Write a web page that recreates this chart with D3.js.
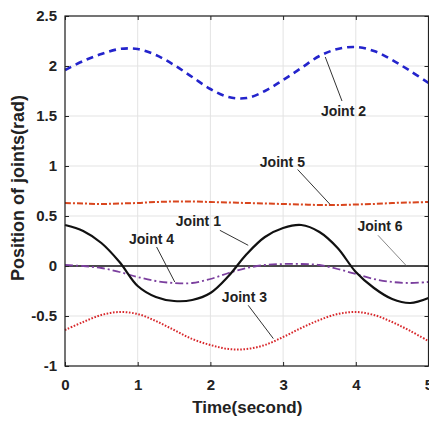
<!DOCTYPE html>
<html>
<head>
<meta charset="utf-8">
<script src="https://cdn.jsdelivr.net/npm/d3@7"></script>
<style>
  body { margin: 0; background: #fff; }
  svg text { font-family: "Liberation Sans", Arial, sans-serif; font-weight: bold; fill: #222; }
</style>
</head>
<body>
<div class="chart_area"></div>
<script>
// time samples (s)
var time = [0, 0.25, 0.5, 0.75, 1, 1.25, 1.5, 1.75, 2, 2.25, 2.5, 2.75, 3, 3.25, 3.5, 3.75, 4, 4.25, 4.5, 4.75, 5];

// joint positions (rad)
var joint1 = [0.41, 0.35, 0.23, 0.04, -0.20, -0.31, -0.35, -0.34, -0.27, -0.10, 0.12, 0.29, 0.38, 0.41, 0.34, 0.18, -0.06, -0.22, -0.33, -0.37, -0.32];
var joint2 = [1.96, 2.05, 2.12, 2.17, 2.17, 2.11, 2.01, 1.89, 1.77, 1.69, 1.68, 1.75, 1.86, 1.98, 2.10, 2.17, 2.19, 2.15, 2.06, 1.95, 1.83];
var joint3 = [-0.64, -0.56, -0.49, -0.46, -0.48, -0.55, -0.64, -0.73, -0.79, -0.83, -0.83, -0.79, -0.71, -0.62, -0.54, -0.48, -0.46, -0.49, -0.56, -0.65, -0.75];
var joint4 = [0.01, 0.00, -0.02, -0.06, -0.11, -0.15, -0.17, -0.17, -0.13, -0.07, -0.02, 0.01, 0.02, 0.02, 0.01, -0.03, -0.08, -0.13, -0.16, -0.17, -0.16];
var joint5 = [0.63, 0.625, 0.62, 0.625, 0.63, 0.64, 0.645, 0.645, 0.64, 0.635, 0.63, 0.625, 0.62, 0.615, 0.61, 0.61, 0.615, 0.62, 0.63, 0.635, 0.64];
var joint6 = [0, 0, 0, 0, 0, 0, 0, 0, 0, 0, 0, 0, 0, 0, 0, 0, 0, 0, 0, 0, 0];

var xTicks = [0, 1, 2, 3, 4, 5];
var yTicks = [-1, -0.5, 0, 0.5, 1, 1.5, 2, 2.5];

var series = [
    { name: "Joint 6", values: joint6, color: "#111", width: 1.6, dash: null },
    { name: "Joint 5", values: joint5, color: "#d9461e", width: 2, dash: "6,2,2,2" },
    { name: "Joint 3", values: joint3, color: "#d8282c", width: 2, dash: "1.6,1.6" },
    { name: "Joint 4", values: joint4, color: "#7b3f9e", width: 1.8, dash: "8,3,2,3" },
    { name: "Joint 2", values: joint2, color: "#2424cc", width: 2.6, dash: "7,5" },
    { name: "Joint 1", values: joint1, color: "#111", width: 2.2, dash: null }
];

// label (t, value) and leader line from (t1, v1) to (t2, v2), data coords
var notes = [
    { text: "Joint 2", t: 3.83, v: 1.50, t1: 3.81, v1: 1.65, t2: 3.58, v2: 2.09, line: "#333" },
    { text: "Joint 5", t: 2.99, v: 0.99, t1: 3.20, v1: 0.965, t2: 3.645, v2: 0.617, line: "#333" },
    { text: "Joint 1", t: 1.835, v: 0.40, t1: 2.13, v1: 0.357, t2: 2.52, v2: 0.207, line: "#333" },
    { text: "Joint 4", t: 1.19, v: 0.22, t1: 1.26, v1: 0.19, t2: 1.51, v2: -0.16, line: "#333" },
    { text: "Joint 6", t: 4.333, v: 0.35, t1: 4.305, v1: 0.307, t2: 4.69, v2: 0.007, line: "#888" },
    { text: "Joint 3", t: 2.468, v: -0.363, t1: 2.52, v1: -0.393, t2: 2.866, v2: -0.726, line: "#333" }
];

var margin = { top: 16, right: 0.5, bottom: 57, left: 65 },
    width = 429 - margin.left - margin.right,
    height = 423 - margin.top - margin.bottom;

var svg = d3.select(".chart_area")
    .append("svg")
    .attr("width", 429)
    .attr("height", 423)
    .append("g")
    .attr("transform", "translate(" + margin.left + "," + margin.top + ")");

var x = d3.scaleLinear().domain([0, 5]).range([0, width]);
var y = d3.scaleLinear().domain([-1, 2.5]).range([height, 0]);

// grid
svg.append("g").selectAll("line")
    .data(xTicks)
    .enter()
    .append("line")
    .attr("x1", function (d) { return x(d); })
    .attr("x2", function (d) { return x(d); })
    .attr("y1", 0)
    .attr("y2", height)
    .style("stroke", "#e3e3e3");

svg.append("g").selectAll("line")
    .data(yTicks)
    .enter()
    .append("line")
    .attr("x1", 0)
    .attr("x2", width)
    .attr("y1", function (d) { return y(d); })
    .attr("y2", function (d) { return y(d); })
    .style("stroke", "#e3e3e3");

// curves
var line = d3.line()
    .x(function (d) { return x(d[0]); })
    .y(function (d) { return y(d[1]); })
    .curve(d3.curveCatmullRom);

svg.append("g").selectAll("path")
    .data(series)
    .enter()
    .append("path")
    .attr("d", function (s) { return line(time.map(function (t, i) { return [t, s.values[i]]; })); })
    .style("fill", "none")
    .style("stroke", function (s) { return s.color; })
    .style("stroke-width", function (s) { return s.width; })
    .style("stroke-dasharray", function (s) { return s.dash; });

// axes, ticks inward like matlab box
var fmt = function (d) { return String(d); };

x_axis = svg.append("g")
    .attr("transform", "translate(0," + height + ")")
    .call(d3.axisBottom(x).tickValues(xTicks).tickFormat(fmt).tickSize(-4).tickPadding(13));
x_axis.selectAll("text").style("font-size", "15px");

y_axis = svg.append("g")
    .call(d3.axisLeft(y).tickValues(yTicks).tickFormat(fmt).tickSize(-4).tickPadding(8));
y_axis.selectAll("text").style("font-size", "15px");

svg.append("g")
    .call(d3.axisTop(x).tickValues(xTicks).tickFormat("").tickSize(-4));
svg.append("g")
    .attr("transform", "translate(" + width + ",0)")
    .call(d3.axisRight(y).tickValues(yTicks).tickFormat("").tickSize(-4));

svg.selectAll(".domain").remove();
svg.selectAll(".tick line").style("stroke", "#222");

svg.append("rect")
    .attr("width", width)
    .attr("height", height)
    .style("fill", "none")
    .style("stroke", "#222")
    .style("stroke-width", 1.2);

// annotations
svg.append("g").selectAll("line")
    .data(notes)
    .enter()
    .append("line")
    .attr("x1", function (d) { return x(d.t1); })
    .attr("y1", function (d) { return y(d.v1); })
    .attr("x2", function (d) { return x(d.t2); })
    .attr("y2", function (d) { return y(d.v2); })
    .style("stroke", function (d) { return d.line; })
    .style("stroke-width", 1);

svg.append("g").selectAll("text")
    .data(notes)
    .enter()
    .append("text")
    .attr("x", function (d) { return x(d.t); })
    .attr("y", function (d) { return y(d.v); })
    .attr("text-anchor", "middle")
    .style("font-size", "14px")
    .text(function (d) { return d.text; });

// axis titles
svg.append("text")
    .attr("x", width / 2 + 0.5)
    .attr("y", height + 47)
    .attr("text-anchor", "middle")
    .style("font-size", "17px")
    .text("Time(second)");

svg.append("text")
    .attr("transform", "translate(" + (24 - margin.left) + "," + (188 - margin.top) + ") rotate(-90)")
    .attr("text-anchor", "middle")
    .style("font-size", "18px")
    .text("Position of joints(rad)");
</script>
</body>
</html>
